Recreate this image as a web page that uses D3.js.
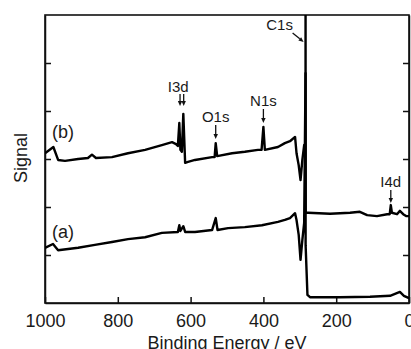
<!DOCTYPE html>
<html>
<head>
<meta charset="utf-8">
<script src="https://cdn.jsdelivr.net/npm/d3@7"></script>
<style>
  body { margin: 0; background: #fff; }
  svg { display: block; font-family: "Liberation Sans", Arial, sans-serif; }
</style>
</head>
<body>
<figure id="xps" style="margin:0"></figure>
<script>
// binding energy (eV) / signal (arb. units)
const energyB = [1000, 977, 964, 945, 909, 882, 871, 860, 816, 772, 725, 679, 651, 640, 635, 631, 628, 624, 620, 615, 607, 588, 541, 534, 531, 527, 486, 451, 415, 405, 400, 396, 360, 341, 327, 313, 309, 303, 298, 293, 288, 284.2, 284.2, 284, 282, 277, 217, 162, 135, 115, 88, 60, 53, 50, 47, 33, 25, 16, 8, 0];
const signalB = [3.12, 3.25, 2.98, 2.96, 3.0, 3.02, 3.09, 3.02, 3.04, 3.12, 3.19, 3.29, 3.35, 3.31, 3.27, 3.75, 3.19, 3.15, 3.94, 2.92, 2.94, 2.98, 3.04, 3.04, 3.33, 3.06, 3.12, 3.15, 3.19, 3.19, 3.67, 3.19, 3.25, 3.33, 3.37, 3.46, 3.12, 2.87, 2.56, 2.98, 3.29, 3.2, 7.5, 1.9, 1.88, 1.88, 1.86, 1.88, 1.9, 1.83, 1.81, 1.85, 1.85, 2.04, 1.88, 1.85, 1.92, 1.85, 1.81, 1.81];

const energyA = [1000, 978, 964, 909, 863, 816, 772, 725, 679, 635, 631, 628, 620, 615, 588, 541, 531, 526, 497, 451, 404, 360, 341, 327, 313, 309, 303, 298, 293, 288, 284.2, 284, 279, 272, 190, 107, 52, 25, 14, 0];
const signalA = [1.15, 1.23, 1.1, 1.15, 1.21, 1.27, 1.33, 1.37, 1.46, 1.48, 1.62, 1.5, 1.6, 1.48, 1.48, 1.52, 1.77, 1.52, 1.56, 1.58, 1.62, 1.69, 1.73, 1.77, 1.87, 1.73, 1.42, 0.9, 1.31, 1.67, 4.79, 1.2, 0.17, 0.12, 0.12, 0.13, 0.15, 0.23, 0.15, 0.1];

const xTicks = [1000, 800, 600, 400, 200, 0];
const yTicks = [1, 2, 3, 4, 5];

const seriesNames = ["(b)", "(a)"];
const peakNames = ["I3d", "O1s", "N1s", "C1s", "I4d"];
const peakEnergy = [634, 531, 400, 284, 50];

const width = 411, height = 349;
const mLeft = 45, mRight = 409, mTop = 15, mBottom = 303;

const svg = d3.select("figure#xps")
  .append("svg")
  .attr("width", width)
  .attr("height", height);

const x = d3.scaleLinear().domain([1000, 0]).range([mLeft, mRight]);
const y = d3.scaleLinear().domain([0, 6]).range([mBottom, mTop]);

svg.append("defs").append("clipPath").attr("id", "plot")
  .append("rect")
  .attr("x", mLeft).attr("y", mTop)
  .attr("width", mRight - mLeft).attr("height", mBottom - mTop);

// axes, ticks pointing inwards
svg.append("g")
  .attr("transform", "translate(0," + mBottom + ")")
  .call(d3.axisBottom(x).tickValues(xTicks).tickFormat(d3.format("d"))
    .tickSizeInner(-6).tickSizeOuter(0).tickPadding(11))
  .call(g => g.selectAll("text").style("font-size", "18px").attr("fill", "#1a1a1a"));

svg.append("g")
  .attr("transform", "translate(" + mLeft + ",0)")
  .call(d3.axisLeft(y).tickValues(yTicks).tickSizeInner(-6).tickSizeOuter(0).tickFormat(""));

svg.append("g")
  .attr("transform", "translate(" + mRight + ",0)")
  .call(d3.axisRight(y).tickValues(yTicks).tickSizeInner(-6).tickSizeOuter(0).tickFormat(""));

svg.selectAll(".domain, .tick line").attr("stroke", "#111").attr("stroke-width", 1.5);

svg.append("rect")
  .attr("x", mLeft).attr("y", mTop)
  .attr("width", mRight - mLeft).attr("height", mBottom - mTop)
  .attr("fill", "none").attr("stroke", "#111").attr("stroke-width", 1.6);

// spectra
const line = d3.line().x(d => x(d[0])).y(d => y(d[1]));
const traces = [d3.zip(energyB, signalB), d3.zip(energyA, signalA)];

svg.append("g").attr("clip-path", "url(#plot)")
  .selectAll("path")
  .data(traces)
  .enter()
  .append("path")
  .attr("d", line)
  .attr("fill", "none")
  .attr("stroke", "#000")
  .attr("stroke-width", 2.4)
  .attr("stroke-linejoin", "round");

// series labels
svg.selectAll(".series")
  .data(seriesNames)
  .enter()
  .append("text")
  .attr("x", 52)
  .attr("y", (d, i) => [138, 238][i])
  .style("font-size", "18px")
  .attr("fill", "#1a1a1a")
  .text(d => d);

// axis titles
svg.append("text")
  .attr("transform", "translate(27,158) rotate(-90)")
  .attr("text-anchor", "middle")
  .style("font-size", "18px")
  .attr("fill", "#1a1a1a")
  .text("Signal");

svg.append("text")
  .attr("x", (mLeft + mRight) / 2)
  .attr("y", 349)
  .attr("text-anchor", "middle")
  .style("font-size", "18px")
  .attr("fill", "#1a1a1a")
  .text("Binding Energy / eV");

// peak annotations
function arrow(x1, y1, x2, y2) {
  const a = Math.atan2(y2 - y1, x2 - x1), L = 5, W = 2.2;
  const bx = x2 - L * Math.cos(a), by = y2 - L * Math.sin(a);
  svg.append("line")
    .attr("x1", x1).attr("y1", y1).attr("x2", bx).attr("y2", by)
    .attr("stroke", "#111").attr("stroke-width", 1.3);
  svg.append("path")
    .attr("d", "M" + x2 + "," + y2 +
      "L" + (bx + W * Math.sin(a)) + "," + (by - W * Math.cos(a)) +
      "L" + (bx - W * Math.sin(a)) + "," + (by + W * Math.cos(a)) + "Z")
    .attr("fill", "#111");
}

const labelBase = [92, 122, 106, 30, 187];
peakNames.forEach((name, i) => {
  const px = x(peakEnergy[i]);
  svg.append("text")
    .attr("x", name === "C1s" ? px - 26 : px)
    .attr("y", labelBase[i])
    .attr("text-anchor", "middle")
    .style("font-size", "15px")
    .attr("fill", "#1a1a1a")
    .text(name);
});

// I3d doublet arrows, then O1s, N1s, C1s, I4d
arrow(x(629), 94, x(629), 106);
arrow(x(619), 94, x(619), 106);
arrow(x(531), 125, x(531), 139);
arrow(x(400), 109, x(400), 123);
arrow(x(284) - 13, 33, x(284) - 2, 42);
arrow(x(50), 190, x(50), 203);
</script>
</body>
</html>
